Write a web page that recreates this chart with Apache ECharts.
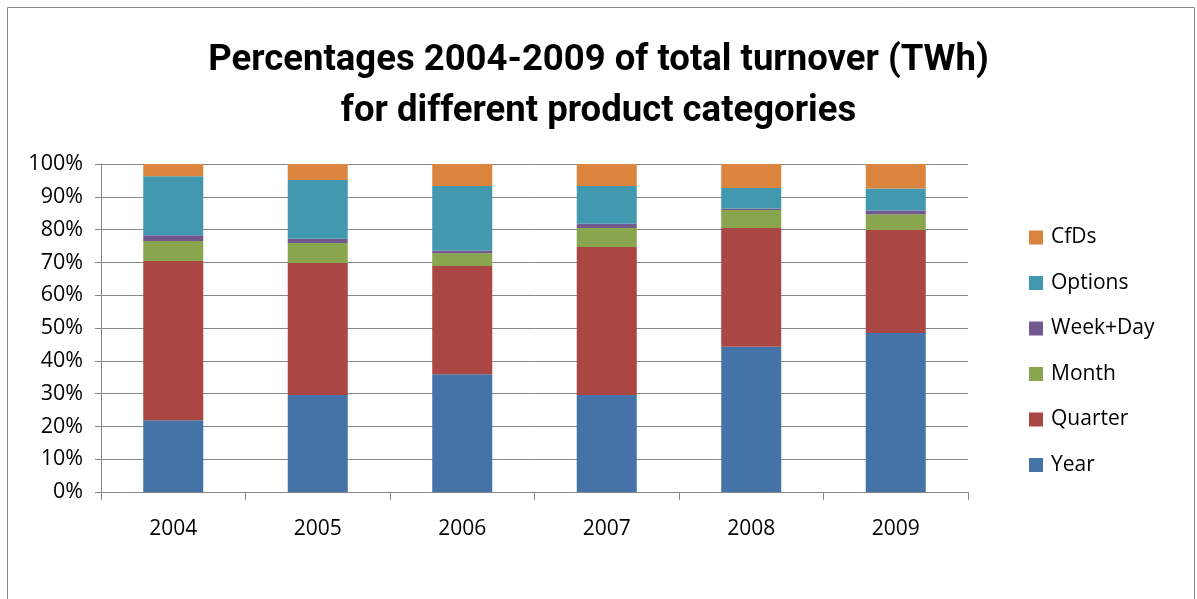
<!DOCTYPE html>
<html>
<head>
<meta charset="utf-8">
<script src="https://cdn.jsdelivr.net/npm/echarts@6/dist/echarts.min.js"></script>
<style>
  html, body { margin: 0; padding: 0; background: #fff; }
  #chart { width: 1197px; height: 599px; }
</style>
</head>
<body>
<div id="chart"></div>
<script>
// ---- data (percent of total turnover) ----
var years = ['2004', '2005', '2006', '2007', '2008', '2009'];
var yearData    = [21.9, 29.6, 35.9, 29.6, 44.3, 48.5];
var quarterData = [48.5, 40.2, 33.0, 45.1, 36.2, 31.4];
var monthData   = [6.1, 6.1, 3.9, 5.8, 5.5, 4.8];
var weekDayData = [1.8, 1.3, 0.8, 1.3, 0.4, 1.1];
var optionsData = [18.0, 17.9, 19.7, 11.5, 6.3, 6.7];
var cfdsData    = [3.7, 4.9, 6.7, 6.7, 7.3, 7.5];
var legendOrder = ['CfDs', 'Options', 'Week+Day', 'Month', 'Quarter', 'Year'];

var labelFont = '"Open Sans", sans-serif';
var gridColor = '#868686';

function barSeries(name, data, color) {
    return {
        name: name,
        type: 'bar',
        stack: 'total',
        barWidth: 60,
        data: data,
        itemStyle: { color: color },
        emphasis: { disabled: true }
    };
}

var myChart = echarts.init(document.getElementById('chart'));

var option = {
    backgroundColor: '#fff',
    animation: false,
    title: {
        text: 'Percentages 2004-2009 of total turnover (TWh)\nfor different product categories',
        left: 'center',
        top: 30,
        textStyle: {
            fontFamily: 'Roboto, sans-serif',
            fontWeight: 'bold',
            fontSize: 36.5,
            lineHeight: 51,
            color: '#000'
        }
    },
    graphic: [{
        type: 'rect',
        shape: { x: 7.5, y: 7.5, width: 1187, height: 620 },
        style: { fill: 'none', stroke: gridColor, lineWidth: 1 },
        silent: true
    }],
    legend: {
        orient: 'vertical',
        left: 1024,
        top: 222,
        itemWidth: 14,
        itemHeight: 14,
        itemGap: 24.5,
        icon: 'rect',
        data: legendOrder,
        textStyle: {
            fontFamily: labelFont,
            fontSize: 21,
            lineHeight: 20,
            color: '#000',
            padding: [0, 0, 0, 3]
        }
    },
    grid: {
        left: 101,
        right: 229,
        top: 164,
        bottom: 107
    },
    xAxis: {
        type: 'category',
        data: years,
        axisLine: { lineStyle: { color: gridColor } },
        axisTick: { show: true, length: 8, lineStyle: { color: gridColor } },
        axisLabel: {
            margin: 27,
            fontFamily: labelFont,
            fontSize: 21,
            color: '#000'
        }
    },
    yAxis: {
        type: 'value',
        min: 0,
        max: 100,
        interval: 10,
        axisLine: { show: true, lineStyle: { color: gridColor } },
        axisTick: { show: true, length: 6, lineStyle: { color: gridColor } },
        splitLine: { lineStyle: { color: gridColor } },
        axisLabel: {
            margin: 18,
            fontFamily: labelFont,
            fontSize: 21.5,
            color: '#000',
            formatter: '{value}%'
        }
    },
    series: [
        barSeries('Year', yearData, '#4572A7'),
        barSeries('Quarter', quarterData, '#AA4643'),
        barSeries('Month', monthData, '#89A54E'),
        barSeries('Week+Day', weekDayData, '#71588F'),
        barSeries('Options', optionsData, '#4198AF'),
        barSeries('CfDs', cfdsData, '#DB843D')
    ]
};

myChart.setOption(option);
</script>
</body>
</html>
